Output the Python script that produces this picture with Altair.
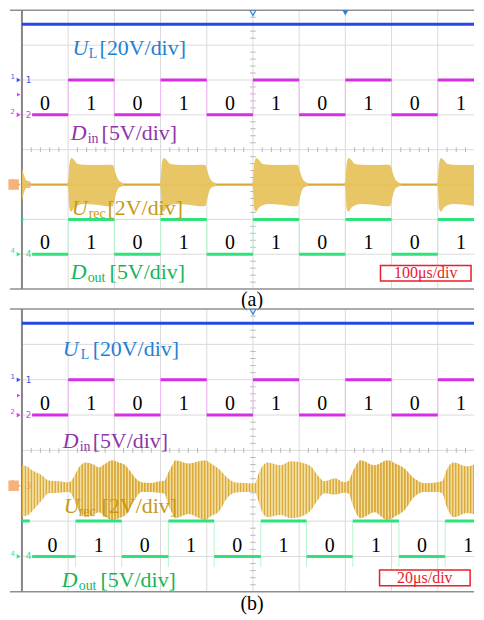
import altair as alt
import pandas as pd
import numpy as np

PLOT_W = 454                 # keeps the svg inside the 468px-wide page body
XMAX = PLOT_W / 46.4         # visible part of the 10-division screen
YMAX = 8.0
FONT = "Liberation Serif"

# ---------------- data (divisions) ----------------
bits = [0, 1, 0, 1, 0, 1, 0, 1, 0, 1]
din_edges = [0.22, 1, 2, 3, 4, 5, 6, 7, 8, 9, 10]
dout_edges_a = [0.22, 1, 2, 3, 4, 5, 6, 7, 8, 9, 10]
dout_edges_b = [0.22, 1.16, 2.16, 3.17, 4.16, 5.17, 6.16, 7.16, 8.16, 9.16, 10]
dout_pre_a = [0.0, 0.03]
dout_pre_b = [0.0, 0.17]
din_lo, din_hi = 5.0, 6.0
dout_lo, dout_hi = 1.0, 2.0
ul_level = 7.6
urec_base = 3.0

digit_x_din = [0.5, 1.5, 2.5, 3.5, 4.5, 5.5, 6.5, 7.5, 8.5, 9.5]
digit_x_dout_a = [0.5, 1.5, 2.5, 3.5, 4.5, 5.5, 6.5, 7.5, 8.5, 9.5]
digit_x_dout_b = [0.66, 1.66, 2.66, 3.66, 4.66, 5.66, 6.66, 7.66, 8.66, 9.66]
digit_y_din = 5.13
digit_y_dout = 1.14

# panel (a): envelope of one burst (offset from burst start), all bursts alike
burst_dt = [-0.02, 0.0, 0.03, 0.07, 0.12, 0.2, 0.35, 0.6, 0.85, 0.97, 1.0, 1.04, 1.08, 1.13, 1.2]
burst_up = [0.03, 0.1, 0.62, 0.76, 0.72, 0.6, 0.57, 0.56, 0.57, 0.56, 0.45, 0.28, 0.15, 0.08, 0.04]
burst_lo = [-0.03, -0.1, -0.7, -0.78, -0.68, -0.6, -0.56, -0.58, -0.62, -0.62, -0.48, -0.26, -0.12, -0.07, -0.04]
burst_starts_a = [-1, 1, 3, 5, 7, 9]

# panel (b): envelope of U_rec
env_t = [0.00, 0.10, 0.22, 0.43, 0.58, 0.80, 1.01, 1.05, 1.16, 1.25, 1.38, 1.55, 1.66, 1.80, 1.94,
         2.10, 2.24, 2.35, 2.46, 2.59, 2.80, 2.95, 3.08, 3.17, 3.25, 3.32, 3.60, 3.97, 4.10, 4.25,
         4.46, 4.60, 4.80, 5.04, 5.11, 5.20, 5.32, 5.60, 5.82, 6.12, 6.25, 6.40, 6.55, 6.77, 6.98,
         7.07, 7.16, 7.33, 7.63, 7.91, 8.10, 8.28, 8.49, 8.71, 8.99, 9.10, 9.18, 9.35, 9.63, 9.96]
env_hi = [3.58, 3.55, 3.44, 3.30, 3.15, 3.13, 3.10, 3.12, 3.35, 3.55, 3.66, 3.60, 3.52, 3.62, 3.72,
          3.66, 3.58, 3.40, 3.21, 3.10, 3.08, 3.12, 3.14, 3.38, 3.58, 3.72, 3.63, 3.72, 3.62, 3.49,
          3.21, 3.10, 3.08, 3.07, 3.30, 3.55, 3.66, 3.58, 3.69, 3.63, 3.55, 3.30, 3.13, 3.21, 3.10,
          3.14, 3.40, 3.72, 3.58, 3.72, 3.62, 3.49, 3.21, 3.07, 3.10, 3.14, 3.42, 3.66, 3.55, 3.72]
env_lo = [2.14, 2.15, 2.28, 2.59, 2.79, 2.80, 2.82, 2.80, 2.50, 2.25, 2.11, 2.17, 2.25, 2.14, 2.03,
          2.08, 2.17, 2.40, 2.65, 2.82, 2.82, 2.80, 2.78, 2.45, 2.22, 2.08, 2.20, 2.03, 2.15, 2.25,
          2.68, 2.80, 2.82, 2.82, 2.60, 2.25, 2.11, 2.17, 2.08, 2.17, 2.30, 2.59, 2.79, 2.75, 2.80,
          2.78, 2.45, 2.08, 2.25, 2.03, 2.15, 2.31, 2.68, 2.82, 2.82, 2.78, 2.45, 2.11, 2.23, 2.08]

# labels: [main letter, subscript, rest]
lab_main = ["U", "D", "U", "D"]
lab_sub = ["L", "in", "rec", "out"]
lab_rest = ["[20V/div]", "[5V/div]", "[2V/div]", "[5V/div]"]
lab_color = ["#1f7fd6", "#8e35a8", "#c9980f", "#16b556"]
# (x main, x sub, x rest, y baseline, y sub baseline) per panel
lab_pos_a = [(1.093, 1.444, 1.681, 6.72, 6.63), (1.056, 1.422, 1.724, 4.27, 4.18),
             (1.078, 1.444, 1.853, 2.14, 2.05), (1.056, 1.422, 1.897, 0.285, 0.2)]
lab_pos_b = [(0.884, 1.272, 1.53, 6.68, 6.59), (0.884, 1.25, 1.53, 4.06, 3.97),
             (0.905, 1.228, 1.724, 2.23, 2.14), (0.862, 1.228, 1.70, 0.14, 0.05)]

scale_text = ["100μs/div", "20μs/div"]
box_a = (7.76, 9.72, 0.23, 0.68)
box_b = (7.74, 9.70, 0.17, 0.62)
panel_tag = ["(a)", "(b)"]

ch_levels = [6.0, 5.0, 3.0, 1.0]
ch_names = ["1", "2", "3", "4"]
ch_colors = ["#2f55e8", "#e040e8", "#f0a860", "#3ce07c"]
trig_level = [5.58, 5.55]
top_marks_a = [(5.0, False), (7.0, True)]
top_marks_b = [(5.0, False)]

# ---------------- helpers ----------------
xs = alt.Scale(domain=[0, XMAX], nice=False, zero=False)
ys = alt.Scale(domain=[0, YMAX], nice=False, zero=False)
X = alt.X("x:Q", scale=xs, axis=None)
Y = alt.Y("y:Q", scale=ys, axis=None)


def hrule(df, **kw):
    return alt.Chart(df).mark_rule(**kw).encode(x=X, x2="x2:Q", y=Y)


def vrule(df, **kw):
    return alt.Chart(df).mark_rule(**kw).encode(x=X, y=Y, y2="y2:Q")


def segments(edges, lo, hi, pre=None):
    rows = []
    if pre is not None:
        rows.append({"x": pre[0], "x2": pre[1], "y": hi})
    for i, b in enumerate(bits):
        rows.append({"x": edges[i], "x2": edges[i + 1], "y": hi if b else lo})
    return pd.DataFrame(rows)


def edges_df(edges, y1, y2):
    return pd.DataFrame({"x": edges[1:-1], "y": [y1] * (len(edges) - 2), "y2": [y2] * (len(edges) - 2)})


def build(p):
    layers = []
    # graticule
    layers.append(vrule(pd.DataFrame({"x": list(range(1, 10)), "y": [0] * 9, "y2": [8] * 9}),
                        color="#dadada", strokeWidth=1))
    layers.append(hrule(pd.DataFrame({"x": [0] * 7, "x2": [XMAX] * 7, "y": list(range(1, 8))}),
                        color="#dadada", strokeWidth=1))
    tk = np.round(np.arange(0, 10, 0.2), 2)
    tk = tk[((tk % 1) != 0) & (tk < XMAX)]
    layers.append(vrule(pd.DataFrame({"x": tk, "y": 3.93, "y2": 4.07}), color="#b8b8b8", strokeWidth=1))
    tky = np.round(np.arange(0, 8, 0.2), 2)
    tky = tky[(tky % 1) != 0]
    layers.append(hrule(pd.DataFrame({"x": 4.94, "x2": 5.06, "y": tky}), color="#b8b8b8", strokeWidth=1))
    # frame
    layers.append(hrule(pd.DataFrame({"x": [-0.26, -0.26], "x2": [XMAX, XMAX], "y": [0, 8]}),
                        color="#8f8f8f", strokeWidth=1.5))
    layers.append(vrule(pd.DataFrame({"x": [0], "y": [0], "y2": [8]}), color="#858585", strokeWidth=2))

    # U_L
    layers.append(hrule(pd.DataFrame({"x": [0], "x2": [XMAX], "y": [ul_level]}),
                        color="#2448e2", strokeWidth=3))
    # D_in
    layers.append(vrule(edges_df(din_edges, din_lo, din_hi), color="#f2b8f6", strokeWidth=1, clip=True))
    layers.append(hrule(segments(din_edges, din_lo, din_hi), color="#d62ee4", strokeWidth=3, clip=True))

    # U_rec
    if p == 0:
        rows = []
        for k, s in enumerate(burst_starts_a):
            for dt, u, l in zip(burst_dt, burst_up, burst_lo):
                rows.append({"x": s + dt, "y": urec_base + u, "y2": urec_base + l, "id": k})
        layers.append(hrule(pd.DataFrame({"x": [0], "x2": [XMAX], "y": [urec_base]}),
                            color="#d9a936", strokeWidth=2.2))
        layers.append(alt.Chart(pd.DataFrame(rows)).mark_area(color="#e7c35e", opacity=0.95, clip=True,
                                                               interpolate="monotone")
                      .encode(x=X, y=Y, y2="y2:Q", detail="id:N"))
    else:
        # carrier texture (style only): soft vertical stripes across the envelope
        n = 154
        stops = []
        for i in range(n):
            stops.append(alt.GradientStop(offset=i / n, color="#d9a837"))
            stops.append(alt.GradientStop(offset=(i + 0.3) / n, color="#dcad42"))
            stops.append(alt.GradientStop(offset=(i + 0.55) / n, color="#f3e0a6"))
            stops.append(alt.GradientStop(offset=(i + 0.85) / n, color="#f0d995"))
        grad = alt.Gradient(gradient="linear", stops=stops, x1=0, x2=1, y1=0, y2=0)
        layers.append(alt.Chart(pd.DataFrame({"x": env_t, "y": env_hi, "y2": env_lo}))
                      .mark_area(color=grad, clip=True, interpolate="monotone")
                      .encode(x=X, y=Y, y2="y2:Q"))

    # D_out
    de = dout_edges_a if p == 0 else dout_edges_b
    pre = dout_pre_a if p == 0 else dout_pre_b
    layers.append(vrule(edges_df(de, 0.7 if p == 1 else dout_lo, dout_hi), color="#b5f5cf", strokeWidth=1, clip=True))
    layers.append(hrule(segments(de, dout_lo, dout_hi, pre), color="#2fe27c", strokeWidth=3, clip=True))

    # digits
    dx_out = digit_x_dout_a if p == 0 else digit_x_dout_b
    dig = pd.DataFrame({"x": digit_x_din + dx_out,
                        "y": [digit_y_din] * 10 + [digit_y_dout] * 10,
                        "t": [str(b) for b in bits] * 2})
    layers.append(alt.Chart(dig).mark_text(font=FONT, fontSize=20, color="black", baseline="alphabetic")
                  .encode(x=X, y=Y, text="t:N"))

    # signal labels
    pos = lab_pos_a if p == 0 else lab_pos_b
    lm = pd.DataFrame({"x": [q[0] for q in pos], "y": [q[3] for q in pos], "t": lab_main, "c": lab_color})
    ls = pd.DataFrame({"x": [q[1] for q in pos], "y": [q[4] for q in pos], "t": lab_sub, "c": lab_color})
    lr = pd.DataFrame({"x": [q[2] for q in pos], "y": [q[3] for q in pos], "t": lab_rest, "c": lab_color})
    for df, size, style in ((lm, 22, "italic"), (ls, 14, "normal"), (lr, 22, "normal")):
        layers.append(alt.Chart(df).mark_text(font=FONT, fontSize=size, fontStyle=style, align="left",
                                              baseline="alphabetic")
                      .encode(x=X, y=Y, text="t:N", color=alt.Color("c:N", scale=None)))

    # time-base box
    bx = box_a if p == 0 else box_b
    layers.append(alt.Chart(pd.DataFrame({"x": [bx[0]], "x2": [bx[1]], "y": [bx[2]], "y2": [bx[3]]}))
                  .mark_rect(fill="white", stroke="#e8202a", strokeWidth=1.5)
                  .encode(x=X, x2="x2:Q", y=Y, y2="y2:Q"))
    layers.append(alt.Chart(pd.DataFrame({"x": [(bx[0] + bx[1]) / 2], "y": [(bx[2] + bx[3]) / 2],
                                          "t": [scale_text[p]]}))
                  .mark_text(font=FONT, fontSize=16, color="#e8202a", baseline="middle")
                  .encode(x=X, y=Y, text="t:N"))

    # panel tag
    layers.append(alt.Chart(pd.DataFrame({"x": [4.98], "y": [-0.3 if p == 0 else -0.34], "t": [panel_tag[p]]}))
                  .mark_text(font=FONT, fontSize=20, color="black", baseline="middle")
                  .encode(x=X, y=Y, text="t:N"))

    # channel markers
    chd = pd.DataFrame({"x": [-0.07] * 4, "y": ch_levels, "c": ch_colors})
    layers.append(alt.Chart(chd).mark_point(shape="triangle-right", filled=True, size=22, opacity=1)
                  .encode(x=X, y=Y, color=alt.Color("c:N", scale=None)))
    cht = pd.DataFrame({"x": [0.08] * 4, "y": ch_levels, "t": ch_names, "c": ch_colors})
    layers.append(alt.Chart(cht).mark_text(font="DejaVu Sans", fontSize=9, align="left", baseline="middle")
                  .encode(x=X, y=Y, text="t:N", color=alt.Color("c:N", scale=None)))
    chs = pd.DataFrame({"x": [-0.25] * 4, "y": [v + 0.08 for v in ch_levels], "t": ch_names, "c": ch_colors})
    layers.append(alt.Chart(chs).mark_text(font="DejaVu Sans", fontSize=7, align="left", baseline="middle")
                  .encode(x=X, y=Y, text="t:N", color=alt.Color("c:N", scale=None)))
    layers.append(alt.Chart(pd.DataFrame({"x": [-0.18], "y": [ch_levels[2]]}))
                  .mark_square(size=110, color="#f5b27a", opacity=1).encode(x=X, y=Y))
    layers.append(alt.Chart(pd.DataFrame({"x": [-0.07], "y": [trig_level[p]]}))
                  .mark_point(shape="triangle-right", filled=True, size=16, color="#e040e8", opacity=1)
                  .encode(x=X, y=Y))
    # trigger / position markers on top (clipped to the screen)
    tm = top_marks_a if p == 0 else top_marks_b
    for xm, filled in tm:
        layers.append(alt.Chart(pd.DataFrame({"x": [xm], "y": [7.93]}))
                      .mark_point(shape="triangle-down", filled=filled, size=40, color="#2a7fe0", opacity=1,
                                  strokeWidth=1.2, clip=True)
                      .encode(x=X, y=Y))

    return alt.layer(*layers).properties(width=PLOT_W, height=280 if p == 0 else 284)


chart = alt.vconcat(build(0), build(1), spacing=20, bounds="flush").properties(
    padding={"left": 0, "top": 0, "right": 0, "bottom": 0}
).configure_view(stroke=None)

chart.save("out.html", embed_options={"renderer": "svg", "actions": False})
